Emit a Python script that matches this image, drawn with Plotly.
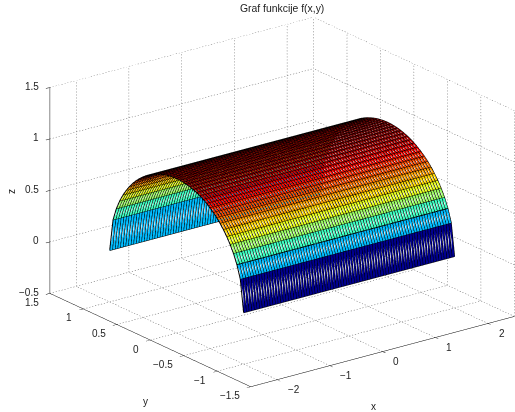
import plotly.graph_objects as go

x_vals = [-2.0,-1.95,-1.9,-1.85,-1.8,-1.75,-1.7,-1.65,-1.6,-1.55,-1.5,-1.45,-1.4,-1.35,-1.3,-1.25,-1.2,-1.15,-1.1,-1.05,-1.0,-0.95,-0.9,-0.85,-0.8,-0.75,-0.7,-0.65,-0.6,-0.55,-0.5,-0.45,-0.4,-0.35,-0.3,-0.25,-0.2,-0.15,-0.1,-0.05,0.0,0.05,0.1,0.15,0.2,0.25,0.3,0.35,0.4,0.45,0.5,0.55,0.6,0.65,0.7,0.75,0.8,0.85,0.9,0.95,1.0,1.05,1.1,1.15,1.2,1.25,1.3,1.35,1.4,1.45,1.5,1.55,1.6,1.65,1.7,1.75,1.8,1.85,1.9,1.95,2.0]
y_vals = [-1.0,-0.95,-0.9,-0.85,-0.8,-0.75,-0.7,-0.65,-0.6,-0.55,-0.5,-0.45,-0.4,-0.35,-0.3,-0.25,-0.2,-0.15,-0.1,-0.05,0.0,0.05,0.1,0.15,0.2,0.25,0.3,0.35,0.4,0.45,0.5,0.55,0.6,0.65,0.7,0.75,0.8,0.85,0.9,0.95,1.0]
z_profile = [0.0,0.312,0.436,0.527,0.6,0.661,0.714,0.76,0.8,0.835,0.866,0.893,0.917,0.937,0.954,0.968,0.98,0.989,0.995,0.999,1.0,0.999,0.995,0.989,0.98,0.968,0.954,0.937,0.917,0.893,0.866,0.835,0.8,0.76,0.714,0.661,0.6,0.527,0.436,0.312,0.0]
x_ticks = [-2,-1,0,1,2]
y_ticks = [-1.5,-1,-0.5,0,0.5,1,1.5]
z_ticks = [-0.5,0,0.5,1,1.5]
x_range = [-2.5,2.5]
y_range = [-1.5,1.5]
z_range = [-0.5,1.5]

JET = [[0,'#000090'],[0.125,'#0000ff'],[0.375,'#00ffff'],[0.625,'#ffff00'],[0.875,'#ff0000'],[1,'#800000']]

nx, ny = len(x_vals), len(y_vals)
vx, vy, vz = [], [], []
for j in range(ny):
    for i in range(nx):
        vx.append(x_vals[i]); vy.append(y_vals[j]); vz.append(z_profile[j])
fi, fj, fk, fc = [], [], [], []
for j in range(ny-1):
    for i in range(nx-1):
        a = j*nx+i; b = a+1; c = a+nx; d = c+1
        fi += [a, b]; fj += [b, d]; fk += [d, c]
        fc += [z_profile[j], z_profile[j]]

fig = go.Figure()

# mesh edges
lx, ly, lz = [], [], []
for i in range(nx):
    lx += [x_vals[i]]*ny + [None]; ly += y_vals + [None]; lz += z_profile + [None]
for j in range(ny):
    lx += x_vals + [None]; ly += [y_vals[j]]*nx + [None]; lz += [z_profile[j]]*nx + [None]
fig.add_trace(go.Scatter3d(x=lx, y=ly, z=lz, mode='lines', line=dict(color='black', width=2), hoverinfo='skip', showlegend=False))

fig.add_trace(go.Mesh3d(x=vx, y=vy, z=vz, i=fi, j=fj, k=fk, intensity=fc, intensitymode='cell',
    colorscale=JET, cmin=0, cmax=1, showscale=False, flatshading=True,
    lighting=dict(ambient=1, diffuse=0, specular=0, roughness=1, fresnel=0), hoverinfo='skip'))

# dotted grid on the back planes (short separate dashes)
gx, gy, gz = [], [], []
def dotted(p, q, n):
    for m in range(n):
        f0 = m / n
        f1 = (m + 0.4) / n
        for f in (f0, f1):
            gx.append(p[0] + (q[0]-p[0])*f); gy.append(p[1] + (q[1]-p[1])*f); gz.append(p[2] + (q[2]-p[2])*f)
        gx.append(None); gy.append(None); gz.append(None)
xa, xb = x_range; ya, yb = y_range; za, zb = z_range
for t in x_ticks + x_range:
    dotted((t,ya,za),(t,yb,za),75)
    dotted((t,yb,za),(t,yb,zb),68)
for t in y_ticks:
    dotted((xa,t,za),(xb,t,za),90)
    dotted((xb,t,za),(xb,t,zb),68)
for t in z_ticks:
    dotted((xa,yb,t),(xb,yb,t),90)
    dotted((xb,ya,t),(xb,yb,t),75)
fig.add_trace(go.Scatter3d(x=gx, y=gy, z=gz, mode='lines', line=dict(color='#666666', width=1), hoverinfo='skip', showlegend=False))

def lab(t):
    return str(t).replace('-','\u2212')

def ax(ticks, rng, lc='black', lw=1):
    return dict(range=rng, tickvals=ticks, showticklabels=False, showgrid=False, zeroline=False,
        showbackground=False, showline=True, linecolor=lc, linewidth=lw, ticks='outside', ticklen=5, tickcolor='black',
        title=dict(text=''), showspikes=False)

FONT = dict(family='Liberation Sans', size=10, color='#222222')
scene_notes = []
for t in z_ticks:
    scene_notes.append(dict(x=xa, y=yb, z=t, text=lab(t), showarrow=False, xanchor='right', yanchor='middle', xshift=-8.5, yshift=1, font=FONT))
for t in y_ticks:
    scene_notes.append(dict(x=xa, y=t, z=za, text=lab(t), showarrow=False, xanchor='right', yanchor='middle', xshift=-9, yshift=-9, font=FONT))
for t in x_ticks:
    scene_notes.append(dict(x=t, y=ya, z=za, text=lab(t), showarrow=False, xanchor='left', yanchor='middle', xshift=8.5, yshift=-10, font=FONT))

s = 1.632 * 0.978 * 1.012
cx, cy, cz = -0.099, 0.0672, -0.0186
fig.update_layout(width=515, height=412, margin=dict(l=0,r=0,t=0,b=0), paper_bgcolor='white', showlegend=False,
    scene=dict(xaxis=ax(x_ticks,x_range), yaxis=ax(y_ticks,y_range), zaxis=ax(z_ticks,z_range,'#777777',2),
        aspectmode='manual', aspectratio=dict(x=0.994*s,y=1*s,z=0.6543*1.632),
        camera=dict(projection=dict(type='orthographic'), up=dict(x=0,y=0,z=1), center=dict(x=cx,y=cy,z=cz),
                    eye=dict(x=-0.565+cx,y=-0.746+cy,z=0.352+cz)),
        domain=dict(x=[0,1],y=[0,1]), annotations=scene_notes),
    annotations=[
        dict(text=t, x=px/515, y=1-py/412, xref='paper', yref='paper', xanchor='center', yanchor='middle', textangle=a, showarrow=False,
             font=dict(FONT, size=fs))
        for t, px, py, a, fs in [('Graf funkcije f(x,y)',282,9,0,10.4),('x',373,406,0,10),('y',145,401,0,10),('z',11,192,-90,10)]
    ])
fig.write_html("out.html", post_script="document.body.style.margin='0';", config={'displayModeBar':False})
